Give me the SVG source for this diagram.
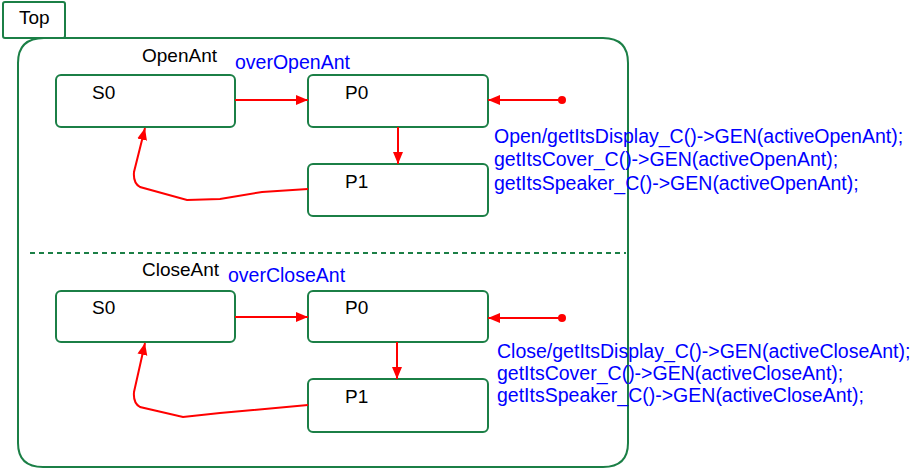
<svg xmlns="http://www.w3.org/2000/svg" width="915" height="469" viewBox="0 0 915 469">
<style>
.frame{fill:#fff;stroke:#1b7f46;stroke-width:2}
.state{fill:#fff;stroke:#1b7f46;stroke-width:2}
.dash{stroke:#1b7f46;stroke-width:2;stroke-dasharray:5 4;fill:none}
.t{font-family:"Liberation Sans",Arial,sans-serif;font-size:19px;fill:#000}
.b{font-family:"Liberation Sans",Arial,sans-serif;font-size:19.5px;fill:#0000ff}
.tr{stroke:#ff0000;stroke-width:2;fill:none;marker-end:url(#ah)}
</style>
<defs>
<marker id="ah" markerUnits="userSpaceOnUse" markerWidth="13" markerHeight="11" refX="12" refY="5" orient="auto">
<path d="M0,0 L12,5 L0,10 Z" fill="#ff0000"/>
</marker>
</defs>
<rect width="915" height="469" fill="#fff"/>
<g id="Top">
<path class="frame" d="M44,38 L603,38 Q628,38 628,63 L628,443 Q628,467 603,467 L43,467 Q18,467 18,443 L18,63 Q18,38 44,38 Z"/>
<rect class="frame" x="3" y="2" width="62" height="36" rx="2"/>
<text class="t" x="19" y="24">Top</text>
<line class="dash" x1="30" y1="253" x2="626" y2="253"/>
</g>
<g id="OpenAnt">
<text class="t" x="142" y="62">OpenAnt</text>
<text class="b" x="235" y="69">overOpenAnt</text>
</g>
<g id="OpenAnt_S0">
<rect class="state" x="56" y="75" width="179" height="52" rx="5"/>
<text class="t" x="92" y="99">S0</text>
</g>
<g id="OpenAnt_P0">
<rect class="state" x="308" y="75" width="180" height="52" rx="5"/>
<text class="t" x="345" y="99">P0</text>
</g>
<g id="OpenAnt_P1">
<rect class="state" x="308" y="164" width="180" height="52" rx="5"/>
<text class="t" x="345" y="188">P1</text>
</g>
<g id="CloseAnt">
<text class="t" x="142" y="276">CloseAnt</text>
<text class="b" x="228" y="282">overCloseAnt</text>
</g>
<g id="CloseAnt_S0">
<rect class="state" x="56" y="291" width="179" height="51" rx="5"/>
<text class="t" x="92" y="314">S0</text>
</g>
<g id="CloseAnt_P0">
<rect class="state" x="308" y="291" width="180" height="51" rx="5"/>
<text class="t" x="345" y="314">P0</text>
</g>
<g id="CloseAnt_P1">
<rect class="state" x="308" y="379" width="180" height="53" rx="5"/>
<text class="t" x="345" y="403">P1</text>
</g>
<g id="connectors">
<line class="tr" x1="235" y1="100" x2="308" y2="100"/>
<line class="tr" x1="398" y1="127" x2="398" y2="164"/>
<path class="tr" d="M308,189 L262,192 L220,199 L187,200 L140,187 Q133,183 134,172 L145,128"/>
<circle cx="562" cy="100" r="4" fill="#ff0000"/>
<line class="tr" x1="562" y1="100" x2="488" y2="100"/>
<text class="b" x="494" y="143">Open/getItsDisplay_C()-&gt;GEN(activeOpenAnt);</text>
<text class="b" x="494" y="166">getItsCover_C()-&gt;GEN(activeOpenAnt);</text>
<text class="b" x="494" y="190">getItsSpeaker_C()-&gt;GEN(activeOpenAnt);</text>
<line class="tr" x1="235" y1="317" x2="308" y2="317"/>
<line class="tr" x1="397" y1="342" x2="397" y2="379"/>
<path class="tr" d="M308,405 L220,413 L183,417 L140,407 Q133,403 134,392 L145,343"/>
<circle cx="562" cy="318" r="4" fill="#ff0000"/>
<line class="tr" x1="562" y1="318" x2="488" y2="318"/>
<text class="b" x="497" y="358">Close/getItsDisplay_C()-&gt;GEN(activeCloseAnt);</text>
<text class="b" x="497" y="380">getItsCover_C()-&gt;GEN(activeCloseAnt);</text>
<text class="b" x="497" y="402">getItsSpeaker_C()-&gt;GEN(activeCloseAnt);</text>
</g>
</svg>
